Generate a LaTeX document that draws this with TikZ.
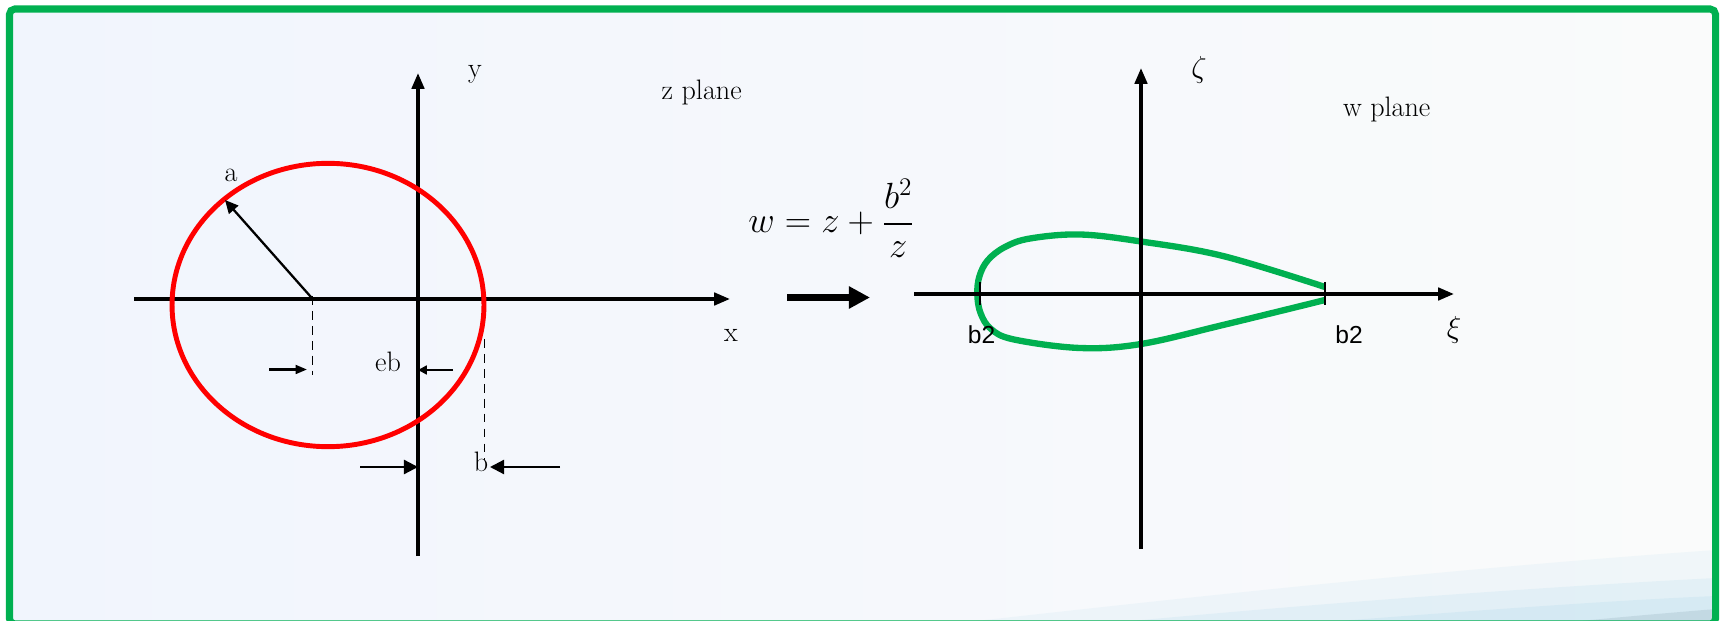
\documentclass[tikz,border=0pt]{standalone}
\usepackage{amsmath,amssymb}
\usepackage{fontspec}
\usepackage{xcolor}
\newfontfamily\plainsans{Liberation Sans}
\usetikzlibrary{arrows.meta}
\definecolor{framegreen}{RGB}{0,176,80}
\definecolor{paleblue}{RGB}{241,245,253}
\definecolor{paperwhite}{RGB}{250,251,251}
\definecolor{streak}{RGB}{170,215,235}
\tikzset{
  axis/.style={line width=2pt,-{Triangle[length=9pt,width=7pt]}},
  pointer/.style={line width=1.3pt,-{Triangle[length=6.5pt,width=5pt]}},
  bigpointer/.style={line width=1.3pt,-{Triangle[length=8pt,width=8pt]}},
  guide/.style={line width=0.9pt,dash pattern=on 5pt off 3.5pt},
  lbl/.style={font=\fontsize{16}{19}\selectfont,inner sep=0pt,anchor=base},
  sanslbl/.style={font=\plainsans\fontsize{14}{17}\selectfont,inner sep=0pt,anchor=base},
}

\begin{document}
\begin{tikzpicture}[x=0.02cm,y=-0.02cm]
\useasboundingbox (0,0) rectangle (1721,621);
\fill[white] (0,0) rectangle (1721,621);
% slide background
\shade[left color=paleblue,right color=paperwhite] (9,9) rectangle (1716,624);
\fill[streak,opacity=0.12] (950,624) .. controls (1250,590) and (1500,565) .. (1716,550) -- (1716,624) -- cycle;
\fill[streak,opacity=0.18] (1100,624) .. controls (1350,600) and (1580,585) .. (1716,578) -- (1716,624) -- cycle;
\fill[streak,opacity=0.22] (1300,624) .. controls (1480,610) and (1620,600) .. (1716,596) -- (1716,624) -- cycle;
\fill[streak!60!gray,opacity=0.3] (1550,624) .. controls (1630,616) and (1680,612) .. (1716,609) -- (1716,624) -- cycle;
\draw[framegreen,line width=4pt,rounded corners=3pt] (9.5,9) rectangle (1715.5,624);

% z plane
\coordinate (zW) at (134,299);
\coordinate (zE) at (730,299);
\coordinate (zS) at (418,556);
\coordinate (zN) at (418,73);
\draw[axis] (zW) -- (zE);
\draw[axis] (zS) -- (zN);
\draw[red,line width=2.8pt] (328,305) ellipse (3.12cm and 2.834cm);

\coordinate (cen) at (312.7,299);
\coordinate (rim) at (225,200);
\draw[pointer,-{Triangle[length=7.5pt,width=7pt]}] (cen) -- (rim);
\node[lbl] (alabel) at (231,182) {a};

\coordinate (cenlow) at (312.7,375);
\draw[guide] (312.7,296) -- (cenlow);
\coordinate (cenfrom) at (269,369.5);
\coordinate (cento) at (307,369.5);
\draw[pointer] (cenfrom) -- (cento);

\coordinate (ebfrom) at (453,370);
\coordinate (ebto) at (418,370);
\draw[pointer,-{Triangle[length=5pt,width=5pt]}] (ebfrom) -- (ebto);
\node[lbl] (eblabel) at (388,371.5) {eb};

\coordinate (btop) at (484.3,339);
\coordinate (blow) at (484.3,460);
\draw[guide] (btop) -- (blow);
\coordinate (bfrom) at (560,467);
\coordinate (bto) at (490,467);
\draw[bigpointer] (bfrom) -- (bto);
\coordinate (ofrom) at (360,467);
\coordinate (oto) at (418,467);
\draw[bigpointer] (ofrom) -- (oto);
\node[lbl] (blabel) at (481,471.5) {b};

\node[lbl] (xlabel) at (731,341.5) {x};
\node[lbl] (ylabel) at (475,78) {y};
\node[lbl] (zplane) at (701.7,100) {z plane};

% the mapping
\node[inner sep=0pt,anchor=base west,font=\fontsize{20}{24}\selectfont] (mapping) at (748,233)
  {$\displaystyle w=z+\frac{b^{2}}{z}$};
\coordinate (mapfrom) at (787,297.5);
\coordinate (mapto) at (870,297.5);
\draw[line width=4.5pt,-{Triangle[length=12pt,width=12pt]}] (mapfrom) -- (mapto);

% w plane
\coordinate (wW) at (914,294);
\coordinate (wE) at (1454,294);
\coordinate (wS) at (1141,549);
\coordinate (wN) at (1141,68);
\draw[framegreen,line width=3.6pt,line join=round] plot[smooth,tension=0.6] coordinates {
  (1325,287) (1223,256) (1141,241.5) (1080,234.5) (1030,238.5) (1005,247)
  (988,260) (979.5,276) (977.3,294) (980.5,313) (991,329) (1014,339.5)
  (1080,348) (1141,344) (1223,325) (1325,300)};
\draw[axis] (wW) -- (wE);
\draw[axis] (wS) -- (wN);
\draw[line width=1pt] (980,282) -- (980,305);
\draw[line width=1pt] (1325,282) -- (1325,305);

\node[sanslbl] (leftb) at (981.5,344) {b2};
\node[sanslbl] (rightb) at (1349,344) {b2};
\node[lbl,anchor=center] (xilabel) at (1454,330) {$\xi$};
\node[lbl,anchor=center] (zetalabel) at (1199,70) {$\zeta$};
\node[lbl] (wplane) at (1386.7,116.7) {w plane};
\end{tikzpicture}
\end{document}
